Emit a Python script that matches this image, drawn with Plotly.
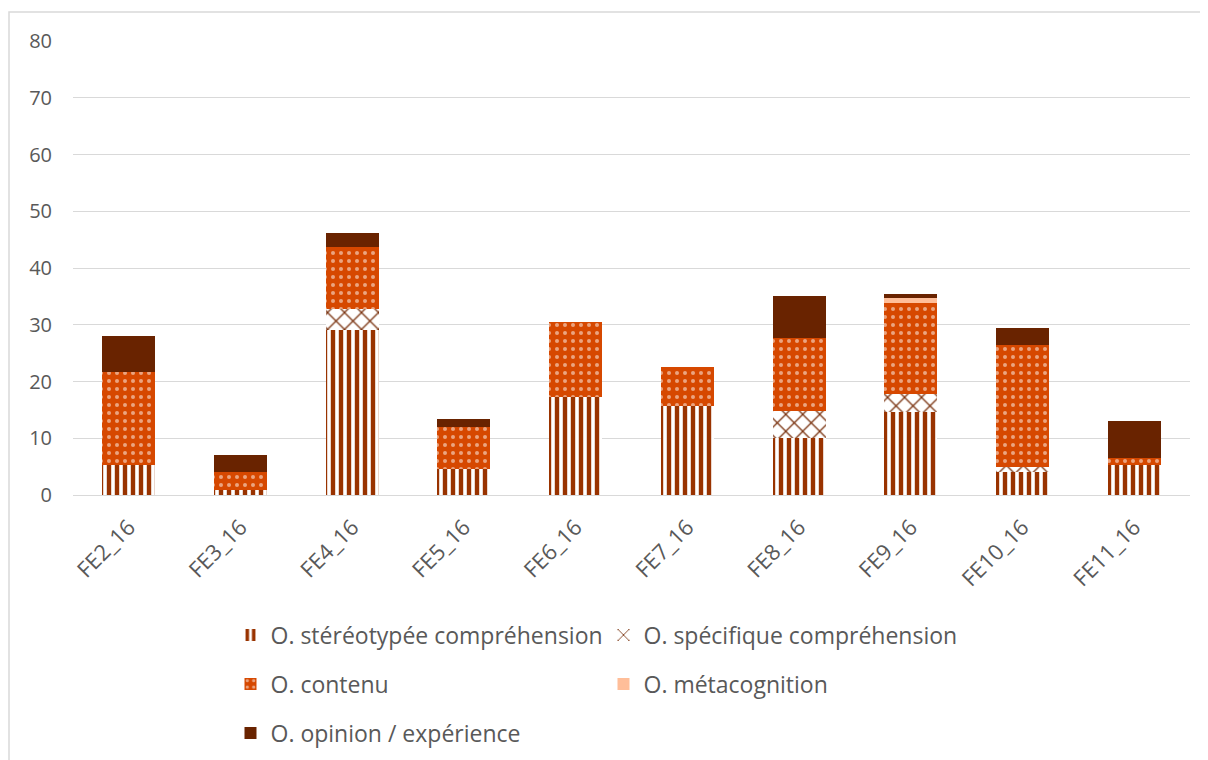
import plotly.graph_objects as go

categories = ["FE2_16", "FE3_16", "FE4_16", "FE5_16", "FE6_16",
              "FE7_16", "FE8_16", "FE9_16", "FE10_16", "FE11_16"]

stereo = [5.2, 0.9, 29.0, 4.5, 17.3, 15.6, 10.1, 14.6, 4.0, 5.2]
specifique = [0, 0, 3.7, 0, 0, 0, 4.7, 3.2, 0.9, 0]
contenu = [16.5, 3.1, 11.0, 7.4, 13.2, 6.9, 12.8, 16.1, 21.5, 1.4]
metacognition = [0, 0, 0, 0, 0, 0, 0, 0.8, 0, 0]
opinion = [6.3, 3.1, 2.5, 1.5, 0, 0, 7.5, 0.8, 3.0, 6.5]

y_ticks = [0, 10, 20, 30, 40, 50, 60, 70, 80]

FONT = "'Open Sans', Lato, sans-serif"
TXT = "#595959"
GRID = "#D9D9D9"

fig = go.Figure()

fig.add_trace(go.Bar(
    x=categories, y=stereo, name="O. stéréotypée compréhension",
    marker=dict(color="#993300", line=dict(width=0),
                pattern=dict(shape="|", fgcolor="#993300", bgcolor="white",
                             size=8, solidity=0.55, fillmode="replace")),
    legend="legend",
))
fig.add_trace(go.Bar(
    x=categories, y=specifique, name="O. spécifique compréhension",
    marker=dict(color="#843C0C", line=dict(width=0),
                pattern=dict(shape="x", fgcolor="#7A3310", bgcolor="white",
                             size=12, solidity=0.2, fillmode="replace")),
    legend="legend",
))
fig.add_trace(go.Bar(
    x=categories, y=contenu, name="O. contenu",
    marker=dict(color="#D64800", line=dict(width=0),
                pattern=dict(shape=".", fgcolor="white",
                             size=8, solidity=0.2, fillmode="overlay")),
    legend="legend2",
))
fig.add_trace(go.Bar(
    x=categories, y=metacognition, name="O. métacognition",
    marker=dict(color="#FFBE99", line=dict(width=0)),
    legend="legend2",
))
fig.add_trace(go.Bar(
    x=categories, y=opinion, name="O. opinion / expérience",
    marker=dict(color="#692300", line=dict(width=0)),
    legend="legend3",
))

leg_common = dict(orientation="h", xanchor="left", yanchor="middle",
                  xref="paper", yref="container",
                  entrywidth=328, entrywidthmode="pixels",
                  font=dict(family=FONT, size=23, color=TXT),
                  bgcolor="rgba(0,0,0,0)", traceorder="normal",
                  itemsizing="constant")

# page body has an 8px default margin: figure placed at (8, 8)
fig.update_layout(
    width=1200, height=752,
    margin=dict(l=65, r=18, t=33, b=265),
    paper_bgcolor="white", plot_bgcolor="white",
    barmode="stack", bargap=0.525,
    font=dict(family=FONT, color=TXT),
    xaxis=dict(tickangle=-45, tickfont=dict(family=FONT, size=22, color=TXT),
               showgrid=False, showline=False, ticks="", automargin=False,
               ticklabelstandoff=14),
    yaxis=dict(range=[0, 80], tickvals=y_ticks,
               tickfont=dict(family=FONT, size=20, color=TXT),
               showgrid=True, gridcolor=GRID, gridwidth=1.3,
               zeroline=True, zerolinecolor=GRID, zerolinewidth=1.3,
               ticks="", ticklabelstandoff=20, automargin=False),
    legend=dict(x=0.141, y=0.1662, **leg_common),
    legend2=dict(x=0.141, y=0.1011, **leg_common),
    legend3=dict(x=0.141, y=0.0359, **leg_common),
    shapes=[dict(type="rect", xref="paper", yref="paper",
                 x0=-0.0573, x1=1.03, y0=-0.62, y1=1.064,
                 line=dict(color=GRID, width=1.5), fillcolor="rgba(0,0,0,0)",
                 layer="below")],
)

fig.write_html("out.html")
